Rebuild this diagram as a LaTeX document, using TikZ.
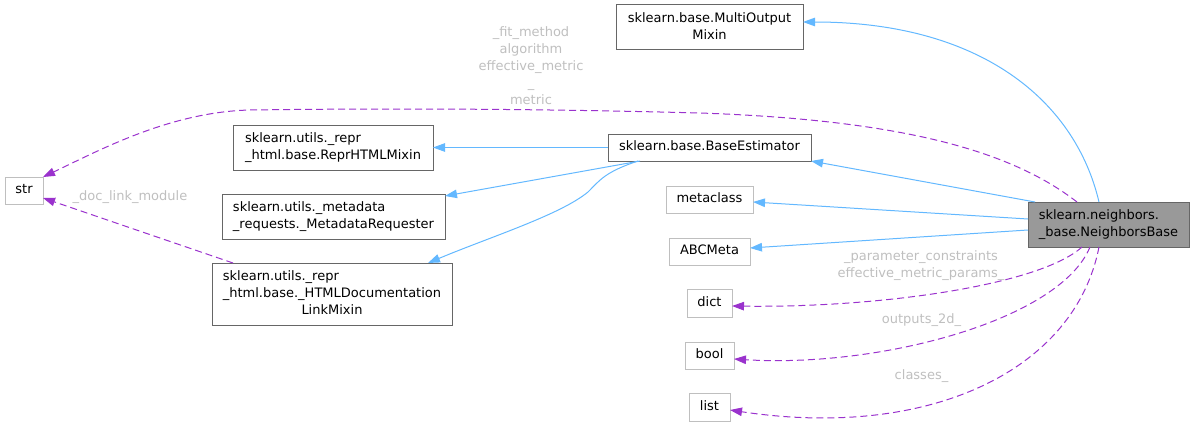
\documentclass[tikz,border=0pt]{standalone}
\usepackage{fontspec}
\setmainfont{DejaVu Sans}
\usetikzlibrary{arrows.meta}
\definecolor{eblue}{HTML}{63B8FF}
\definecolor{epurple}{HTML}{9A32CD}
\definecolor{dgray}{HTML}{666666}
\definecolor{lgray}{HTML}{BFBFBF}
\definecolor{nbfill}{HTML}{999999}
\definecolor{lbl}{HTML}{BFBFBF}
\newcommand{\ltab}[1]{\begin{tabular}{@{}l@{}}#1\end{tabular}}
\newcommand{\ctab}[1]{\begin{tabular}{@{}c@{}}#1\end{tabular}}
\begin{document}
\begin{tikzpicture}[x=1pt,y=-1pt,
  every node/.style={font=\fontsize{13}{17}\selectfont, inner sep=0pt, outer sep=0pt},
  cls/.style={draw=dgray, line width=1pt, fill=white},
  ext/.style={draw=lgray, line width=1pt, fill=white},
  cur/.style={draw=dgray, line width=1pt, fill=nbfill},
  inh/.style={draw=eblue, line width=1pt, -{Triangle[length=12pt,width=8.5pt]}},
  use/.style={draw=epurple, line width=1pt, dash pattern=on 7pt off 4pt, -{Triangle[length=12pt,width=8.5pt]}},
  lab/.style={text=lbl}]
\useasboundingbox (0,0) rectangle (1195,428);
% nodes
\node[cls, minimum width=187pt, minimum height=45pt] (mo) at (709.5,27.5) {\ctab{sklearn.base.MultiOutput\\Mixin}};
\node[cls, minimum width=203pt, minimum height=27pt] (be) at (709.5,147.5) {\ltab{sklearn.base.BaseEstimator}};
\node[ext, minimum width=87pt, minimum height=27pt] (mc) at (709.5,199.5) {\ltab{metaclass}};
\node[ext, minimum width=81pt, minimum height=27pt] (abc) at (709.5,251.5) {\ltab{ABCMeta}};
\node[ext, minimum width=45pt, minimum height=28pt] (dict) at (709.5,303) {\ltab{dict}};
\node[ext, minimum width=49pt, minimum height=27pt] (bool) at (709.5,355.5) {\ltab{bool}};
\node[ext, minimum width=41pt, minimum height=28pt] (list) at (709.5,407) {\ltab{list}};
\node[cur, minimum width=161pt, minimum height=45pt] (nb) at (1108.5,224.5) {\ltab{sklearn.neighbors.\\\_base.NeighborsBase}};
\node[ext, minimum width=38pt, minimum height=27pt] (str) at (24,190.5) {\ltab{str}};
\node[cls, minimum width=200pt, minimum height=45pt] (rh) at (333,147.5) {\ltab{sklearn.utils.\_repr\\\_html.base.ReprHTMLMixin}};
\node[cls, minimum width=223pt, minimum height=45pt] (mr) at (333.5,216.5) {\ltab{sklearn.utils.\_metadata\\\_requests.\_MetadataRequester}};
\node[cls, minimum width=240pt, minimum height=62pt] (hd) at (332,294) {\ltab{sklearn.utils.\_repr\\\_html.base.\_HTMLDocumentation\\\multicolumn{1}{@{}c@{}}{LinkMixin}}};
% labels
\node[lab] (lstr) at (531,67) {\ctab{\_fit\_method\\algorithm\\effective\_metric\\\_\\metric}};
\node[lab] (ldoc) at (130,197) {\ctab{\_doc\_link\_module}};
\node[lab] (ldict) at (921,266) {\ctab{\_parameter\_constraints\\effective\_metric\_params\_}};
\node[lab] (lbool) at (921.5,320) {\ctab{outputs\_2d\_}};
\node[lab] (llist) at (921.5,376) {\ctab{classes\_}};
% inheritance edges
\draw[inh] ([xshift=-9.5pt]nb.north) .. controls (1075,100) and (980,22) .. ([yshift=5.5pt]mo.east);
\draw[inh] ([xshift=7pt]nb.north west) -- (be.south east);
\draw[inh] ([yshift=5.5pt]nb.west) -- ([yshift=-2.5pt]mc.east);
\draw[inh] ([yshift=-5.5pt]nb.west) -- ([yshift=3.5pt]abc.east);
\draw[inh] (be.west) -- (rh.east);
\draw[inh] ([xshift=32pt]be.south west) -- ([yshift=-2pt]mr.north east);
\draw[inh] ([xshift=30pt]be.south west) .. controls (605,172) and (600,180) .. (588,192) .. controls (560,215) and (490,237) .. ([xshift=-24pt]hd.north east);
% usage edges
\draw[use] ([xshift=-31.5pt]nb.north) .. controls (1010,150) and (900,120) .. (700,113) .. controls (550,109) and (400,108) .. (250,110) .. controls (170,112) and (100,150) .. (str.north east);
\draw[use] ([xshift=21pt]hd.north west) -- ([yshift=-7.5pt]str.east);
\draw[use] ([xshift=-26.5pt]nb.south) .. controls (1040,285) and (880,308) .. ([yshift=-3pt]dict.east);
\draw[use] ([xshift=-18.5pt]nb.south) .. controls (1060,320) and (880,368) .. ([yshift=-3.5pt]bool.east);
\draw[use] ([xshift=-9.5pt]nb.south) .. controls (1075,370) and (930,440) .. ([yshift=-3pt]list.east);
\end{tikzpicture}
\end{document}
